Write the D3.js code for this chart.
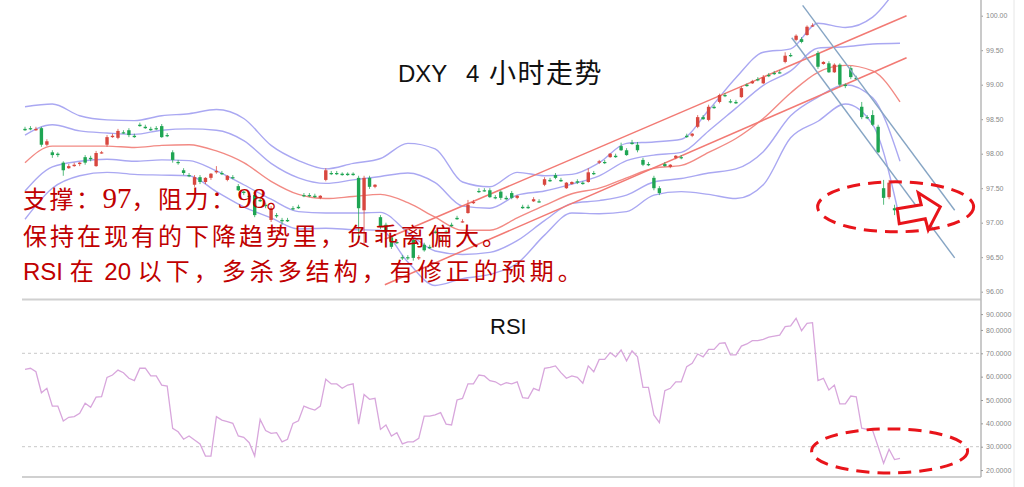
<!DOCTYPE html>
<html><head><meta charset="utf-8">
<script src="https://cdn.jsdelivr.net/npm/d3@7/dist/d3.min.js"></script>
<style>html,body{margin:0;padding:0;background:#fff;}svg{display:block}</style>
</head><body><svg id="c" width="1024" height="487"></svg>
<script>
// ---------- data (4-hour DXY candles, index 0..160) ----------
const opens = [98.36,98.37,98.34,98.37,98.13,98.02,98.00,97.87,97.79,97.82,
97.85,97.95,97.94,97.82,98.01,98.13,98.24,98.23,98.31,98.34,
98.26,98.42,98.39,98.36,98.37,98.40,98.27,98.02,97.88,97.76,
97.69,97.55,97.66,97.59,97.65,97.73,97.72,97.62,97.66,97.53,
97.45,97.39,97.40,97.33,97.26,97.04,97.11,97.04,97.04,97.21,
97.23,97.40,97.40,97.39,97.36,97.62,97.72,97.72,97.71,97.71,
97.71,97.65,97.18,97.65,97.52,97.08,96.97,96.79,96.72,96.50,
96.50,96.75,96.49,96.68,96.65,96.87,96.75,96.87,96.97,97.07,
97.01,97.14,97.29,97.46,97.47,97.47,97.37,97.45,97.36,97.43,
97.36,97.23,97.23,97.31,97.31,97.55,97.62,97.69,97.62,97.50,
97.56,97.60,97.58,97.59,97.72,97.87,97.88,97.95,97.97,98.11,
98.05,98.16,98.13,97.91,97.85,97.65,97.50,97.85,97.81,97.94,
97.95,98.26,98.26,98.39,98.53,98.49,98.68,98.75,98.85,98.76,
98.75,98.82,99.00,99.02,99.08,99.02,99.14,99.17,99.18,99.33,
99.43,99.65,99.66,99.72,99.85,99.46,99.30,99.31,99.18,99.29,
99.00,99.24,99.10,98.68,98.53,98.56,98.39,97.50,97.37,97.21,
97.16];
const highs = [98.39,98.40,98.39,98.39,98.21,98.05,98.02,97.89,97.85,97.87,
97.88,97.98,97.97,98.04,98.04,98.27,98.29,98.36,98.34,98.37,
98.29,98.45,98.42,98.39,98.40,98.43,98.30,98.05,97.91,97.79,
97.72,97.69,97.69,97.66,97.72,97.82,97.75,97.69,97.69,97.56,
97.47,97.42,97.45,97.36,97.29,97.24,97.14,97.07,97.07,97.24,
97.26,97.43,97.43,97.42,97.40,97.79,97.75,97.75,97.73,97.73,
97.73,97.68,97.68,97.68,97.56,97.11,97.00,96.82,96.75,96.53,
96.53,96.78,96.53,96.71,96.68,96.89,96.78,96.89,97.00,97.10,
97.05,97.33,97.33,97.50,97.50,97.50,97.40,97.47,97.39,97.46,
97.40,97.26,97.26,97.37,97.34,97.66,97.65,97.72,97.65,97.59,
97.60,97.63,97.60,97.79,97.75,97.91,97.91,98.01,98.00,98.16,
98.08,98.20,98.17,97.94,97.88,97.68,97.53,97.88,97.85,97.98,
97.98,98.29,98.30,98.56,98.56,98.71,98.71,98.87,98.88,98.79,
98.78,98.98,99.02,99.07,99.11,99.14,99.17,99.20,99.21,99.47,
99.46,99.73,99.69,99.86,99.89,99.49,99.34,99.34,99.31,99.31,
99.02,99.27,99.13,98.75,98.56,98.63,98.42,97.62,97.62,97.26,
97.18];
const lows = [98.33,98.34,98.33,98.10,98.11,97.94,97.95,97.68,97.78,97.81,
97.82,97.84,97.89,97.81,98.00,98.10,98.23,98.21,98.29,98.24,
98.23,98.39,98.36,98.33,98.34,98.23,98.24,97.87,97.84,97.69,
97.66,97.52,97.56,97.56,97.62,97.71,97.69,97.60,97.63,97.46,
97.40,97.34,97.08,97.30,97.21,97.01,97.07,96.97,97.01,97.18,
97.20,97.37,97.37,97.36,97.34,97.60,97.69,97.69,97.68,97.68,
97.68,96.71,96.68,97.49,97.50,96.91,96.85,96.62,96.69,96.46,
96.46,96.45,96.46,96.58,96.62,96.84,96.72,96.84,96.94,97.04,
97.00,97.13,97.27,97.43,97.45,97.36,97.34,97.33,97.33,97.34,
97.34,97.20,97.20,97.30,97.29,97.53,97.59,97.63,97.59,97.49,
97.55,97.56,97.55,97.58,97.69,97.85,97.85,97.94,97.94,98.04,
97.97,98.13,98.02,97.82,97.82,97.47,97.40,97.81,97.79,97.92,
97.92,98.23,98.24,98.37,98.49,98.47,98.65,98.73,98.82,98.73,
98.72,98.81,98.97,99.01,99.05,99.01,99.11,99.14,99.16,99.31,
99.40,99.63,99.60,99.71,99.84,99.23,99.29,99.17,99.17,98.97,
98.95,99.08,99.07,98.50,98.50,98.40,98.01,97.26,97.34,97.11,
97.11];
const closes = [98.34,98.36,98.36,98.13,98.18,97.98,97.98,97.76,97.82,97.84,
97.87,97.87,97.92,98.01,98.02,98.24,98.26,98.33,98.30,98.27,
98.24,98.40,98.37,98.34,98.36,98.24,98.26,97.91,97.87,97.72,
97.68,97.66,97.59,97.65,97.71,97.75,97.71,97.68,97.65,97.47,
97.43,97.37,97.11,97.31,97.24,97.21,97.10,97.02,97.02,97.20,
97.21,97.39,97.39,97.37,97.39,97.76,97.71,97.71,97.69,97.69,
97.69,97.21,97.65,97.52,97.55,96.94,96.88,96.65,96.71,96.49,
96.49,96.49,96.50,96.60,96.63,96.85,96.73,96.85,96.95,97.05,
97.02,97.26,97.30,97.45,97.46,97.37,97.36,97.36,97.34,97.36,
97.39,97.21,97.21,97.34,97.30,97.63,97.60,97.65,97.60,97.58,
97.59,97.58,97.56,97.73,97.71,97.89,97.87,98.00,97.95,98.05,
97.98,98.14,98.05,97.84,97.84,97.50,97.43,97.82,97.84,97.97,
97.94,98.24,98.29,98.53,98.50,98.68,98.66,98.85,98.84,98.75,
98.73,98.95,98.98,99.05,99.07,99.11,99.13,99.16,99.17,99.42,
99.42,99.71,99.62,99.84,99.86,99.26,99.33,99.18,99.29,99.00,
98.98,99.11,99.08,98.53,98.52,98.42,98.02,97.36,97.58,97.18,
97.14];
const rsiValues = [63.1,63.6,62.1,53.1,55.0,47.4,47.4,41.0,42.6,42.9,
44.3,48.6,46.9,51.2,51.4,59.7,60.7,62.8,61.7,59.3,
58.3,63.6,63.6,60.3,60.3,56.4,56.0,37.9,36.4,33.2,
34.6,32.9,31.2,26.0,26.0,42.9,41.4,40.7,40.0,34.6,
34.0,31.7,26.0,41.7,36.9,35.7,36.0,32.1,33.2,40.0,
41.1,47.4,46.4,45.7,47.4,58.9,56.9,56.9,55.0,56.4,
56.9,39.7,52.4,50.3,50.7,37.4,39.3,34.6,36.0,31.2,
32.1,32.1,33.6,43.1,43.1,43.6,44.6,39.7,39.3,50.0,
50.7,56.9,56.9,60.7,60.3,58.3,57.8,56.4,57.4,56.9,
57.8,51.0,50.7,55.0,54.0,63.6,64.0,64.6,61.7,59.3,
60.3,59.7,57.2,64.6,62.1,67.4,67.4,70.3,68.5,71.4,
66.8,71.0,68.5,55.4,55.4,43.6,40.3,54.0,55.0,57.8,
57.8,64.3,65.7,69.7,68.5,71.7,71.7,74.3,74.5,69.3,
69.3,73.1,74.0,75.4,75.4,76.0,76.9,77.4,77.8,81.4,
81.7,85.0,79.7,82.8,83.1,58.3,59.3,54.3,56.4,48.3,
48.3,51.7,51.4,37.9,37.4,36.9,30.0,22.9,28.9,24.5,
25.0];
// Bollinger bands read at every 5th candle
const bandIdx = [0,5,10,15,20,25,30,35,40,45,50,55,60,65,70,75,80,85,90,95,100,105,110,115,120,125,130,135,140,145,150,155,160];
const bandOuterUpper = [98.68,98.72,98.55,98.49,98.48,98.55,98.58,98.64,98.51,98.12,97.90,97.78,97.86,97.93,98.15,98.07,97.59,97.52,97.73,97.68,97.70,97.87,98.15,98.17,98.21,98.63,99.10,99.47,99.52,99.89,99.83,99.98,100.46];
const bandInnerUpper = [98.27,98.42,98.33,98.30,98.28,98.34,98.36,98.34,98.19,97.86,97.65,97.57,97.62,97.67,97.72,97.58,97.24,97.21,97.40,97.46,97.56,97.68,97.90,97.98,98.02,98.33,98.66,98.99,99.20,99.53,99.55,99.59,99.60];
const bandMiddle = [97.87,98.11,98.11,98.11,98.09,98.12,98.13,98.04,97.87,97.60,97.41,97.35,97.38,97.41,97.29,97.08,96.89,96.89,97.07,97.25,97.42,97.50,97.65,97.79,97.83,98.02,98.22,98.51,98.88,99.18,99.28,99.20,98.75];
const bandInnerLower = [97.46,97.81,97.89,97.92,97.89,97.91,97.90,97.75,97.55,97.34,97.16,97.14,97.14,97.15,96.86,96.59,96.54,96.57,96.74,97.03,97.28,97.32,97.40,97.59,97.64,97.72,97.78,98.03,98.55,98.82,99.00,98.81,97.89];
const bandOuterLower = [97.05,97.50,97.68,97.73,97.70,97.69,97.68,97.45,97.23,97.07,96.91,96.92,96.90,96.89,96.43,96.09,96.19,96.25,96.41,96.82,97.14,97.13,97.16,97.40,97.45,97.41,97.35,97.55,98.23,98.47,98.72,98.42,97.04];
// trend lines [index, price]
const trendUpper = [[65.8,96.76],[161.2,100.00]];
const trendLower = [[65.8,96.10],[161.2,99.39]];
const channelUpper = [[142.2,100.15],[170.0,97.18]];
const channelLower = [[140.2,99.68],[170.0,96.49]];
const priceTicks = [96,96.5,97,97.5,98,98.5,99,99.5,100];
const rsiTicks = [20,30,40,50,60,70,80,90];
const rsiRefLines = [30,70];
const titleParts = ["DXY","4","小时走势"];
const noteLines = ["支撑：97，阻力：98。","保持在现有的下降趋势里，负乖离偏大。","RSI 在 20 以下，多杀多结构，有修正的预期。"];

// ---------- layout ----------
const svg = d3.select("#c");
const N = closes.length;
const x = d3.scaleLinear().domain([0,160]).range([25,900]);
const y = d3.scaleLinear().domain([96,100]).range([291.7,15.7]);
const yR = d3.scaleLinear().domain([30,70]).range([446.7,353.3]);
const L = 22, R = 981;

svg.append("defs").append("clipPath").attr("id","clipTop")
  .append("rect").attr("x",L).attr("y",0).attr("width",R-L).attr("height",298);

// frame lines
svg.append("line").attr("x1",1014).attr("x2",1014).attr("y1",0).attr("y2",487).attr("stroke","#e6e6e6").attr("stroke-width",1);
svg.append("line").attr("x1",L).attr("x2",R).attr("y1",299.5).attr("y2",299.5).attr("stroke","#d0d0d0").attr("stroke-width",2);
svg.append("line").attr("x1",L).attr("x2",R).attr("y1",477).attr("y2",477).attr("stroke","#d0d0d0").attr("stroke-width",2);

const gTop = svg.append("g").attr("clip-path","url(#clipTop)");

// bands
const bandLine = arr => d3.line().curve(d3.curveMonotoneX)
  .x((d,i)=>x(bandIdx[i])).y(d=>y(d))(arr);
[bandOuterUpper,bandInnerUpper,bandInnerLower,bandOuterLower].forEach(b=>{
  gTop.append("path").attr("d",bandLine(b)).attr("fill","none")
    .attr("stroke","#aaa8f2").attr("stroke-width",1.4);
});
gTop.append("path").attr("d",bandLine(bandMiddle)).attr("fill","none")
  .attr("stroke","#f28a84").attr("stroke-width",1.4);

// trend lines
[trendUpper,trendLower].forEach(t=>{
  gTop.append("line").attr("x1",x(t[0][0])).attr("y1",y(t[0][1]))
    .attr("x2",x(t[1][0])).attr("y2",y(t[1][1]))
    .attr("stroke","#f27a74").attr("stroke-width",1.5);
});

// candles
const idx = d3.range(N);
const cg = gTop.append("g");
const col = i => closes[i] > opens[i] ? "#d8473f" : "#1fa553";
cg.selectAll("line.w").data(idx).join("line").attr("class","w")
  .attr("x1",i=>x(i)).attr("x2",i=>x(i))
  .attr("y1",i=>y(highs[i])).attr("y2",i=>y(lows[i]))
  .attr("stroke",i=>col(i)).attr("stroke-opacity",0.75).attr("stroke-width",1);
cg.selectAll("rect").data(idx).join("rect")
  .attr("x",i=>x(i)-1.7).attr("width",3.4)
  .attr("y",i=>y(Math.max(opens[i],closes[i])))
  .attr("height",i=>Math.max(1.2,Math.abs(y(opens[i])-y(closes[i]))))
  .attr("fill",i=>col(i));

// channel lines
[channelUpper,channelLower].forEach(t=>{
  gTop.append("line").attr("x1",x(t[0][0])).attr("y1",y(t[0][1]))
    .attr("x2",x(t[1][0])).attr("y2",y(t[1][1]))
    .attr("stroke","#86a5c4").attr("stroke-width",1.4);
});

// price axis
const ax = svg.append("g").attr("transform",`translate(${R},0)`)
  .call(d3.axisRight(y).tickValues(priceTicks).tickFormat(d3.format(".2f")).tickSize(2).tickPadding(3));
ax.select(".domain").remove();
ax.selectAll("line").attr("stroke","#999");
ax.selectAll("text").attr("fill","#888").attr("font-size",7).attr("font-family","Liberation Sans, Arial, sans-serif");
svg.append("line").attr("x1",R).attr("x2",R).attr("y1",0).attr("y2",477).attr("stroke","#b8b8b8").attr("stroke-width",1.5);

// title
const sans = "'Liberation Sans', Arial, sans-serif";
const cjk = "'Noto Sans CJK SC', sans-serif";
const title = svg.append("text").attr("y",82).attr("fill","#111");
title.append("tspan").attr("x",398).attr("font-size",24).attr("font-family",sans).text(titleParts[0]);
title.append("tspan").attr("x",466).attr("font-size",24).attr("font-family",sans).text(titleParts[1]);
title.append("tspan").attr("x",489).attr("y",83).attr("font-size",27).attr("letter-spacing",1.5).attr("font-family",cjk).text(titleParts[2]);

// notes (mixed script runs)
const latinStyle = [{f:"'Liberation Serif', 'Times New Roman', serif", s:29},{f:sans,s:24},{f:sans,s:24}];
const cjkSpacing = [2.5, 3, 4];
noteLines.forEach((t,li)=>{
  const tx = svg.append("text").attr("x",23).attr("y",[208,245,280][li]).attr("fill","#c00000")
    .style("white-space","pre");
  const runs = t.match(/[A-Za-z0-9 ]+|[^A-Za-z0-9 ]+/g);
  runs.forEach(r=>{
    const latin = /^[A-Za-z0-9 ]+$/.test(r);
    tx.append("tspan").text(r)
      .attr("font-family", latin ? latinStyle[li].f : cjk)
      .attr("font-size", latin ? latinStyle[li].s : 24)
      .attr("letter-spacing", latin ? 0 : cjkSpacing[li]);
  });
});

// annotation: ellipse + arrow in top panel
const e1 = {i:159.2, p:97.23};
svg.append("ellipse").attr("cx",x(e1.i)).attr("cy",y(e1.p)).attr("rx",78).attr("ry",25)
  .attr("fill","none").attr("stroke","#e8141a").attr("stroke-width",3).attr("stroke-dasharray","13,8");
const ax0 = x(159.5), ay0 = y(97.23);
const arrowPts = [[0,2],[24,-2],[21,-14],[43,0],[31,23],[28,12],[2,17]];
svg.append("polygon").attr("points",arrowPts.map(p=>[ax0+p[0],ay0+p[1]].join(",")).join(" "))
  .attr("fill","#fff").attr("stroke","#e8141a").attr("stroke-width",3).attr("stroke-linejoin","miter");

// ---------- RSI panel ----------
svg.selectAll("line.ref").data(rsiRefLines).join("line").attr("class","ref")
  .attr("x1",L).attr("x2",R).attr("y1",d=>yR(d)).attr("y2",d=>yR(d))
  .attr("stroke","#c8c8c8").attr("stroke-width",1).attr("stroke-dasharray","3,3");
svg.append("path").attr("d",d3.line().x((d,i)=>x(i)).y(d=>yR(d))(rsiValues))
  .attr("fill","none").attr("stroke","#d8a6dc").attr("stroke-width",1.3);
const ay = svg.append("g").attr("transform",`translate(${R},0)`)
  .call(d3.axisRight(yR).tickValues(rsiTicks).tickFormat(d3.format(".4f")).tickSize(2).tickPadding(3));
ay.select(".domain").remove();
ay.selectAll("line").attr("stroke","#999");
ay.selectAll("text").attr("fill","#888").attr("font-size",7).attr("font-family",sans);
ay.selectAll(".tick").filter(d=>d===90).attr("transform",`translate(0,${yR(90)+8})`);
svg.append("text").attr("x",490).attr("y",334).attr("font-size",22)
  .attr("font-family",sans).attr("fill","#111").text("RSI");
const e2 = {i:158.1, v:28.2};
svg.append("ellipse").attr("cx",x(e2.i)).attr("cy",yR(e2.v)).attr("rx",78).attr("ry",22)
  .attr("fill","none").attr("stroke","#e8141a").attr("stroke-width",3).attr("stroke-dasharray","13,8");
</script></body></html>
